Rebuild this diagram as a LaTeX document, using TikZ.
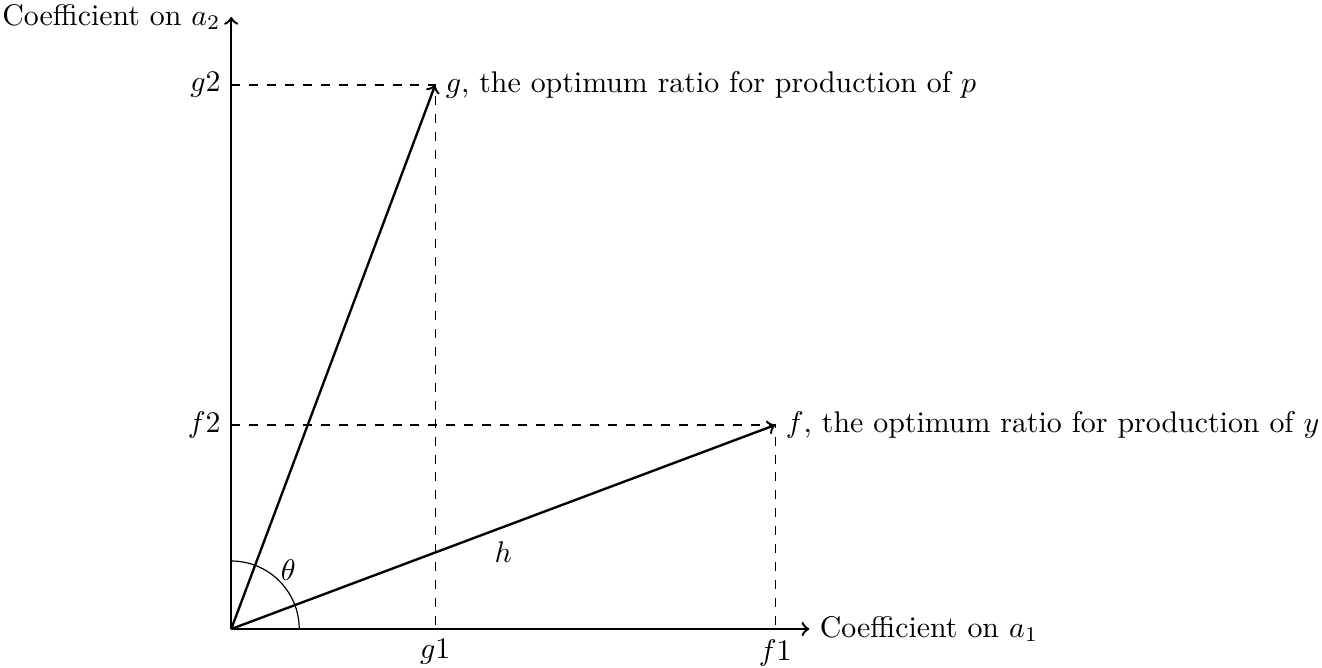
\documentclass[tikz,border=0pt]{standalone}
\begin{document}
\begin{tikzpicture}[scale=0.8,vec/.style={->,thick},guide/.style={dashed}]
  \useasboundingbox (-3.40,-0.56) rectangle (16.04,9.25);
  \coordinate (O) at (0,0);
  \coordinate (f) at (8,3); \coordinate (g) at (3,8);
  \coordinate (f1) at (8,0); \coordinate (f2) at (0,3);
  \coordinate (g1) at (3,0); \coordinate (g2) at (0,8);
  \coordinate (xend) at (8.5,0); \coordinate (yend) at (0,9);
  \draw[vec] (O)--(xend); \node[right] (xlab) at (xend) {Coefficient on $a_1$};
  \draw[vec] (O)--(yend); \node[left] (ylab) at (yend) {Coefficient on $a_2$};
  \draw[guide] (g2)--(g)--(g1);
  \draw[guide] (f2)--(f)--(f1);
  \draw[vec] (O)--(g); \node[right] (glab) at (g) {$g$, the optimum ratio for production of $p$};
  \draw[vec] (O)--(f); \node[right] (flab) at (f) {$f$, the optimum ratio for production of $y$};
  \node[left] (g2lab) at (g2) {$g2$}; \node[left] (f2lab) at (f2) {$f2$};
  \node[below] (g1lab) at (g1) {$g1$}; \node[below] (f1lab) at (f1) {$f1$};
  \draw (1,0) arc (0:90:1);
  \node (theta) at (0.84,0.87) {$\theta$};
  \node (hlab) at (4.0,1.13) {$h$};
\end{tikzpicture}
\end{document}
